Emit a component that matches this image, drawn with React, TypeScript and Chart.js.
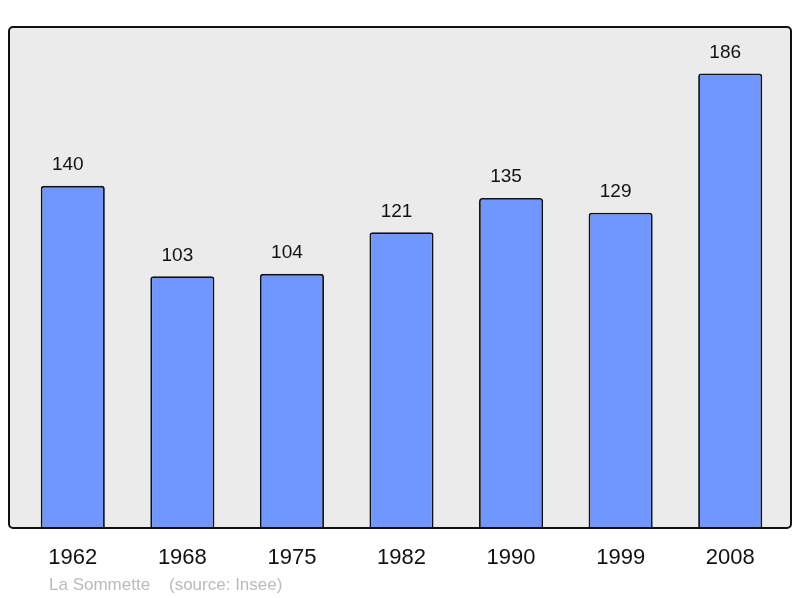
import React, { useEffect, useRef } from "react";
import { Chart, registerables } from "chart.js";

Chart.register(...registerables);

const years = ["1962", "1968", "1975", "1982", "1990", "1999", "2008"];
const population = [140, 103, 104, 121, 135, 129, 186];
const caption = "La Sommette    (source: Insee)";

const FONT = "'Liberation Sans', Arial, sans-serif";

const boxPlugin = {
  id: "box",
  beforeDatasetsDraw(chart: any) {
    const { ctx, chartArea } = chart;
    const x = chartArea.left - 9;
    const y = chartArea.top;
    const w = chartArea.right + 6 - x;
    const h = chartArea.bottom - y;
    ctx.save();
    ctx.beginPath();
    ctx.roundRect(x, y, w, h, 4);
    ctx.fillStyle = "#ebebeb";
    ctx.fill();
    ctx.restore();
  },
  afterDatasetsDraw(chart: any) {
    const { ctx, chartArea } = chart;
    const x = chartArea.left - 9;
    const y = chartArea.top;
    const w = chartArea.right + 6 - x;
    const h = chartArea.bottom - y;
    ctx.save();
    ctx.beginPath();
    ctx.roundRect(x, y, w, h, 4);
    ctx.lineWidth = 2;
    ctx.strokeStyle = "#111";
    ctx.stroke();
    // value labels
    const meta = chart.getDatasetMeta(0);
    ctx.fillStyle = "#111";
    ctx.font = `19px ${FONT}`;
    ctx.textAlign = "center";
    ctx.textBaseline = "middle";
    meta.data.forEach((bar: any, i: number) => {
      ctx.fillText(String(population[i]), bar.x - 5, bar.y - 21);
    });
    // caption
    ctx.fillStyle = "#bbbbbb";
    ctx.font = `17px ${FONT}`;
    ctx.textAlign = "left";
    ctx.fillText(caption, 49, 585);
    ctx.restore();
  },
};

export default function App() {
  const ref = useRef<HTMLCanvasElement>(null);
  useEffect(() => {
    if (!ref.current) return;
    const chart = new Chart(ref.current, {
      type: "bar",
      data: {
        labels: years,
        datasets: [
          {
            data: population,
            backgroundColor: "#7097ff",
            borderColor: "#111",
            borderWidth: 1.8,
            borderRadius: 3,
            borderSkipped: "bottom",
            barPercentage: 0.585,
            categoryPercentage: 1,
          },
        ],
      },
      options: {
        animation: false,
        responsive: false,
        layout: { padding: { left: 18, right: 15, top: 27, bottom: 0 } },
        plugins: { legend: { display: false }, tooltip: { enabled: false } },
        scales: {
          x: {
            grid: { display: false, drawTicks: false },
            border: { display: false },
            ticks: {
              color: "#111",
              font: { size: 22, family: FONT },
              padding: 17,
            },
            afterFit(scale: any) {
              scale.height = 70;
            },
          },
          y: {
            display: false,
            min: 0,
            max: 205,
          },
        },
      },
      plugins: [boxPlugin],
    });
    return () => chart.destroy();
  }, []);
  return (
    <div style={{ position: "fixed", left: 0, top: 0, width: 800, height: 598, background: "#fff" }}>
      <canvas ref={ref} width={800} height={598} style={{ width: 800, height: 598 }} />
    </div>
  );
}
